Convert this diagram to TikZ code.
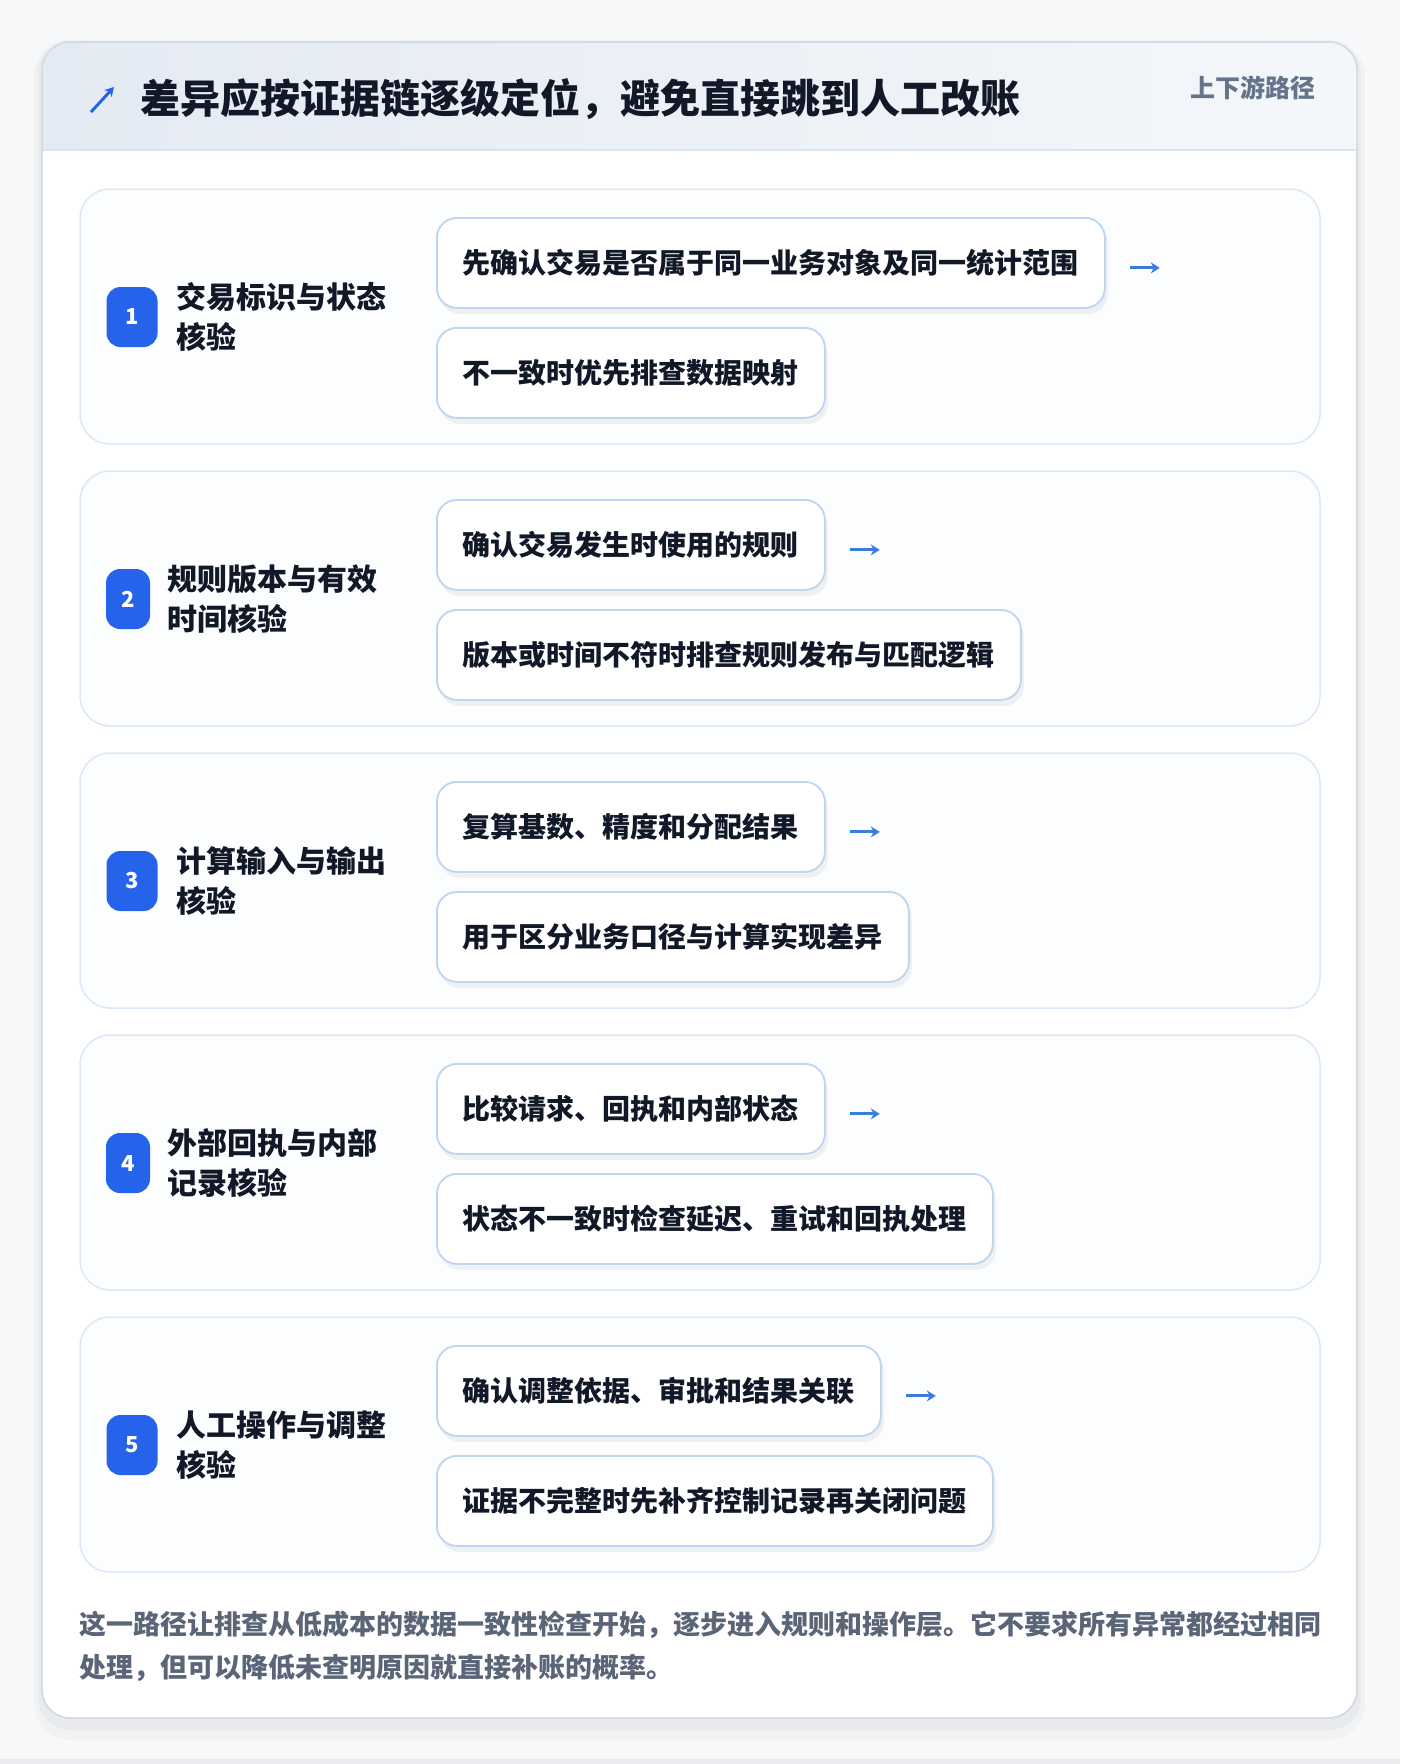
\documentclass[tikz,border=0pt]{standalone}
\usepackage{fontspec}
\setmainfont{Noto Sans CJK SC}
\usetikzlibrary{positioning,arrows.meta,shadows}

\definecolor{pagebg}{HTML}{F7F8FA}
\definecolor{bottomgrey}{HTML}{E9EBEF}
\definecolor{cardline}{HTML}{D3DAE5}
\definecolor{headl}{HTML}{E4EAF3}
\definecolor{headr}{HTML}{F4F7FA}
\definecolor{headline}{HTML}{D8E5F6}
\definecolor{stepfill}{HTML}{FCFDFE}
\definecolor{stepline}{HTML}{DCE8F8}
\definecolor{boxline}{HTML}{BDD5F2}
\definecolor{badgeblue}{HTML}{2563EB}
\definecolor{arrowblue}{HTML}{3B7DDF}
\definecolor{inkdark}{HTML}{111827}
\definecolor{inkgrey}{HTML}{64748B}
\definecolor{footgrey}{HTML}{5A6578}

\begin{document}
\begin{tikzpicture}[x=1pt, y=-1pt,
    stepcard/.style={draw=stepline, fill=stepfill, line width=1.5pt, rounded corners=30pt},
    notebox/.style={draw=boxline, fill=white, line width=1.8pt, rounded corners=20pt,
        anchor=north west, minimum height=90pt, inner xsep=26pt, inner ysep=0pt,
        font=\fontsize{28}{34}\selectfont\bfseries, text=inkdark,
        drop shadow={shadow xshift=3pt, shadow yshift=-6pt, fill=black, opacity=0.05}},
    badge/.style={fill=badgeblue, rounded corners=14pt, minimum height=60pt, inner sep=0pt,
        text=white, font=\fontsize{22}{22}\selectfont\bfseries},
    stepname/.style={anchor=west, align=left, inner sep=0pt,
        font=\fontsize{30}{40}\selectfont\bfseries, text=inkdark},
    flowarrow/.style={-{Stealth[length=9pt,width=11pt]}, draw=arrowblue, line width=3pt}]

    \useasboundingbox (0,0) rectangle (1400,1764);
    \fill[pagebg] (0,0) rectangle (1400,1764);
    \fill[bottomgrey] (0,1759) rectangle (1400,1764);

    % Draw the outer card and its header
    \fill[black, opacity=0.025, rounded corners=36pt] (34,40) rectangle (1365,1740);
    \fill[black, opacity=0.03, rounded corners=32pt] (38,42) rectangle (1361,1730);
    \draw[cardline, fill=white, line width=1.5pt, rounded corners=28pt] (42,42) rectangle (1357,1718);
    \begin{scope}
        \clip[rounded corners=28pt] (42,42) rectangle (1357,1718);
        \shade[left color=headl, right color=headr] (42,42) rectangle (1357,150);
    \end{scope}
    \draw[headline, line width=1.5pt] (42,150) -- (1357,150);
    \draw[cardline, line width=1.5pt, rounded corners=28pt] (42,42) rectangle (1357,1718);

    \coordinate (icon tail) at (91,112);
    \coordinate (icon head) at (114,87);
    \draw[-{Stealth[length=9pt,width=10pt]}, draw=badgeblue, line width=3pt] (icon tail) -- (icon head);
    \node[anchor=west, inner sep=0pt, font=\fontsize{40}{40}\selectfont\bfseries, text=inkdark] (title) at (140,99) {差异应按证据链逐级定位，避免直接跳到人工改账};
    \node[anchor=east, inner sep=0pt, font=\fontsize{25}{25}\selectfont\bfseries, text=inkgrey] (tag) at (1316,88) {上下游路径};

    % Step 1
    \draw[stepcard] (80,189) rectangle (1320,444);
    \node[badge, minimum width=51pt] (b1) at (132,317) {1};
    \node[stepname] (s1) at (176,317) {交易标识与状态\\核验};
    \node[notebox] (n1a) at (436,217) {先确认交易是否属于同一业务对象及同一统计范围};
    \node[notebox] (n1b) at (436,327) {不一致时优先排查数据映射};
    \coordinate (a1s) at ([xshift=24pt, yshift=-5pt]n1a.east);
    \coordinate[right=30pt of a1s] (a1e);
    \draw[flowarrow] (a1s) -- (a1e);

    % Step 2
    \draw[stepcard] (80,471) rectangle (1320,726);
    \node[badge, minimum width=44pt] (b2) at (128,599) {2};
    \node[stepname] (s2) at (167,599) {规则版本与有效\\时间核验};
    \node[notebox] (n2a) at (436,499) {确认交易发生时使用的规则};
    \node[notebox] (n2b) at (436,609) {版本或时间不符时排查规则发布与匹配逻辑};
    \coordinate (a2s) at ([xshift=24pt, yshift=-5pt]n2a.east);
    \coordinate[right=30pt of a2s] (a2e);
    \draw[flowarrow] (a2s) -- (a2e);

    % Step 3
    \draw[stepcard] (80,753) rectangle (1320,1008);
    \node[badge, minimum width=51pt] (b3) at (132,881) {3};
    \node[stepname] (s3) at (176,881) {计算输入与输出\\核验};
    \node[notebox] (n3a) at (436,781) {复算基数、精度和分配结果};
    \node[notebox] (n3b) at (436,891) {用于区分业务口径与计算实现差异};
    \coordinate (a3s) at ([xshift=24pt, yshift=-5pt]n3a.east);
    \coordinate[right=30pt of a3s] (a3e);
    \draw[flowarrow] (a3s) -- (a3e);

    % Step 4
    \draw[stepcard] (80,1035) rectangle (1320,1290);
    \node[badge, minimum width=44pt] (b4) at (128,1163) {4};
    \node[stepname] (s4) at (167,1163) {外部回执与内部\\记录核验};
    \node[notebox] (n4a) at (436,1063) {比较请求、回执和内部状态};
    \node[notebox] (n4b) at (436,1173) {状态不一致时检查延迟、重试和回执处理};
    \coordinate (a4s) at ([xshift=24pt, yshift=-5pt]n4a.east);
    \coordinate[right=30pt of a4s] (a4e);
    \draw[flowarrow] (a4s) -- (a4e);

    % Step 5
    \draw[stepcard] (80,1317) rectangle (1320,1572);
    \node[badge, minimum width=51pt] (b5) at (132,1445) {5};
    \node[stepname] (s5) at (176,1445) {人工操作与调整\\核验};
    \node[notebox] (n5a) at (436,1345) {确认调整依据、审批和结果关联};
    \node[notebox] (n5b) at (436,1455) {证据不完整时先补齐控制记录再关闭问题};
    \coordinate (a5s) at ([xshift=24pt, yshift=-5pt]n5a.east);
    \coordinate[right=30pt of a5s] (a5e);
    \draw[flowarrow] (a5s) -- (a5e);

    % Closing note
    \node[anchor=north west, align=left, inner sep=0pt, font=\fontsize{27}{43}\selectfont\bfseries, text=footgrey] (note) at (79,1611)
        {这一路径让排查从低成本的数据一致性检查开始，逐步进入规则和操作层。它不要求所有异常都经过相同\\处理，但可以降低未查明原因就直接补账的概率。};
\end{tikzpicture}
\end{document}
